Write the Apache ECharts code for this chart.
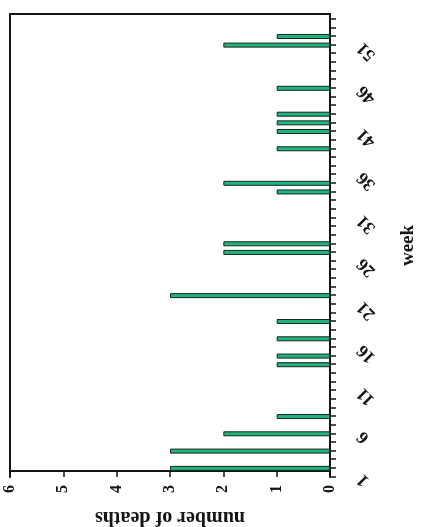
<!DOCTYPE html>
<html>
<head>
<meta charset="utf-8">
<script src="https://cdn.jsdelivr.net/npm/echarts@6/dist/echarts.min.js"></script>
<style>
  html, body { margin: 0; padding: 0; background: #ffffff; overflow: hidden; }
  body { width: 430px; height: 527px; position: relative; }
  #chart { position: absolute; left: 0; top: 527px; width: 527px; height: 430px;
           transform-origin: 0 0; transform: rotate(-90deg); }
</style>
</head>
<body>
<div id="chart"></div>
<script>
// Data (week number -> number of deaths)
const weeks = [2, 4, 6, 8, 14, 15, 17, 19, 22, 27, 28, 34, 35, 39, 41, 42, 43, 46, 51, 52];
const deaths = [3, 3, 2, 1, 1, 1, 1, 1, 3, 2, 2, 1, 2, 1, 1, 1, 1, 1, 2, 1];
const weekLabels = [1, 6, 11, 16, 21, 26, 31, 36, 41, 46, 51];
const deathTicks = [0, 1, 2, 3, 4, 5, 6];

const font = 'Liberation Serif, Times New Roman, serif';
const ink = '#151515';

const chart = echarts.init(document.getElementById('chart'), null, { renderer: 'canvas' });
chart.setOption({
  backgroundColor: '#ffffff',
  animation: false,
  grid: { left: 50, right: 14, top: 10, bottom: 100, containLabel: false, outerBoundsMode: 'none' },
  xAxis: [{
    type: 'value', position: 'bottom', min: 1, max: 54.6, interval: 1,
    name: 'week', nameLocation: 'middle', nameGap: 69,
    nameTextStyle: { fontFamily: font, fontWeight: 'bold', fontSize: 19, color: ink },
    axisLine: { show: true, onZero: false, lineStyle: { color: ink, width: 2 } },
    axisTick: { show: true, length: 6, lineStyle: { color: ink, width: 1.5 } },
    axisLabel: {
      rotate: 45, margin: 30, fontFamily: font, fontWeight: 'bold', fontSize: 18, color: ink,
      showMaxLabel: false,
      formatter: v => (weekLabels.indexOf(Math.round(v)) >= 0 && Math.abs(v - Math.round(v)) < 1e-6) ? String(Math.round(v)) : ''
    },
    splitLine: { show: false }
  }, {
    type: 'value', position: 'top', min: 1, max: 54.6,
    axisLine: { show: true, onZero: false, lineStyle: { color: ink, width: 2 } },
    axisTick: { show: false }, axisLabel: { show: false }, splitLine: { show: false }
  }],
  yAxis: [{
    type: 'value', position: 'left', offset: -6,
    min: deathTicks[0], max: deathTicks[deathTicks.length - 1], interval: 1,
    name: 'number of deaths', nameLocation: 'middle', nameGap: 36,
    nameTextStyle: { fontFamily: font, fontWeight: 'bold', fontSize: 20, color: ink },
    axisLine: { show: true, onZero: false, lineStyle: { color: ink, width: 2 } },
    axisTick: { show: true, length: 6, lineStyle: { color: ink, width: 1.5 } },
    axisLabel: { margin: 14, fontFamily: font, fontWeight: 'bold', fontSize: 16, color: ink },
    splitLine: { show: false }
  }, {
    type: 'value', position: 'right', min: 0, max: 6, interval: 1,
    axisLine: { show: true, onZero: false, lineStyle: { color: ink, width: 2 } },
    axisTick: { show: false }, axisLabel: { show: false }, splitLine: { show: false }
  }],
  series: [{
    type: 'bar',
    xAxisIndex: 0, yAxisIndex: 0,
    barWidth: 5,
    data: weeks.map((w, i) => [w, deaths[i]]),
    itemStyle: { color: '#1fb57c', borderColor: '#17261f', borderWidth: 1 }
  }]
});
</script>
</body>
</html>
